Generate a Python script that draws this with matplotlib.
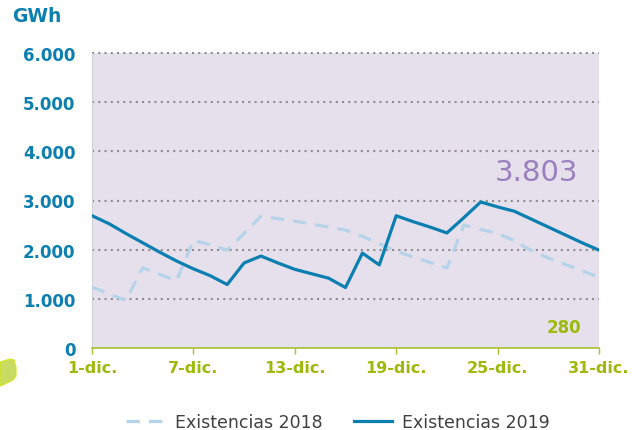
import matplotlib
matplotlib.use('Agg')
import matplotlib.pyplot as plt
from matplotlib.patches import Polygon

# Daily stock levels, December (GWh)
days = list(range(1, 32))
existencias_2018 = [1240, 1100, 970, 1630, 1500, 1370, 2190, 2100, 1990, 2330,
                    2680, 2630, 2580, 2520, 2460, 2400, 2270, 2120, 1970, 1850,
                    1740, 1630, 2500, 2410, 2330, 2180, 1980, 1830, 1700, 1570,
                    1440]
existencias_2019 = [2690, 2530, 2330, 2140, 1950, 1770, 1610, 1470, 1290, 1730,
                    1870, 1730, 1600, 1510, 1420, 1230, 1930, 1690, 2690, 2570,
                    2460, 2340, 2650, 2970, 2870, 2780, 2620, 2460, 2300, 2140,
                    1990]
x_ticks = [1, 7, 13, 19, 25, 31]
x_labels = ['1-dic.', '7-dic.', '13-dic.', '19-dic.', '25-dic.', '31-dic.']
y_ticks = [0, 1000, 2000, 3000, 4000, 5000, 6000]
y_labels = ['0', '1.000', '2.000', '3.000', '4.000', '5.000', '6.000']

blue = '#0b7fb0'
light_blue = '#b6d3ea'
green = '#9cba0a'

fig = plt.figure(figsize=(6.33, 4.31), dpi=100)
ax = fig.add_axes([92 / 633, 82 / 431, 507 / 633, 295 / 431])
ax.set_facecolor('#e6e0ec')

# dotted grid lines
for v in y_ticks[1:]:
    ax.axhline(v, color='#8e8e8e', lw=1.5, linestyle=(0, (1, 2.0)), zorder=1, clip_on=False)

ax.plot(days, existencias_2018, color=light_blue, lw=2.3, linestyle=(0, (4.2, 2.8)),
        label='Existencias 2018', zorder=2)
ax.plot(days, existencias_2019, color=blue, lw=2.3, label='Existencias 2019', zorder=3)

ax.set_xlim(1, 31)
ax.set_ylim(0, 6000)
ax.set_xticks(x_ticks)
ax.set_xticklabels(x_labels, fontsize=11.5, fontweight='bold', color=green)
ax.set_yticks(y_ticks)
ax.set_yticklabels(y_labels, fontsize=12, fontweight='bold', color=blue)
ax.tick_params(axis='x', length=4, width=1, color='#a8c030', pad=5)
ax.tick_params(axis='y', length=0, pad=12)

for s in ['top', 'right']:
    ax.spines[s].set_visible(False)
ax.spines['left'].set_color('#d0d0d8')
ax.spines['left'].set_linewidth(0.8)
ax.spines['bottom'].set_color('#a8c030')
ax.spines['bottom'].set_linewidth(1.2)

ax.text(27.3, 3570, '3.803', fontsize=21, color='#9a80bd', ha='center', va='center')
ax.text(28.9, 430, '280', fontsize=12, fontweight='bold', color=green, ha='center', va='center')

fig.text(12 / 633, 1 - 17 / 431, 'GWh', fontsize=13.5, fontweight='bold', color=blue,
         ha='left', va='center')

# green decoration at bottom-left
blob = [(0, 363), (10, 360), (14, 361), (16, 368), (16, 377), (13, 381), (5, 385), (0, 387)]
fig.patches.append(Polygon([(px / 633, 1 - py / 431) for px, py in blob], closed=True,
                           transform=fig.transFigure, facecolor='#c8dc64',
                           edgecolor='#d4e820', lw=0.8))

fig.legend(loc='center', bbox_to_anchor=(338 / 633, 1 - 423 / 431), ncol=2, frameon=False,
           fontsize=12.5, handlelength=2.2, handletextpad=0.6, columnspacing=1.8,
           labelcolor='#404040')

fig.savefig('out.png', dpi=100)
